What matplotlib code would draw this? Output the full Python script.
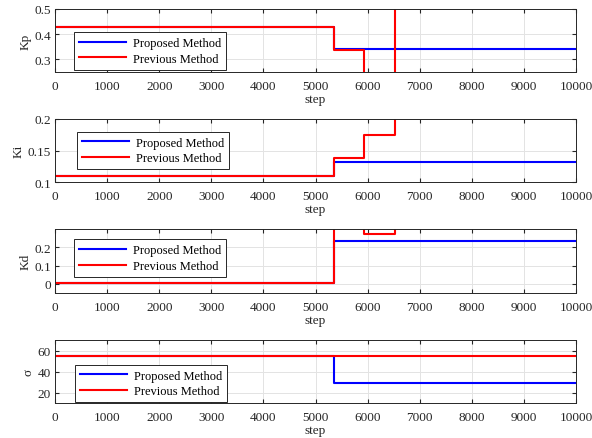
import matplotlib.pyplot as plt
from matplotlib.ticker import FuncFormatter

# step where each parameter value starts (values held until the next step)
steps = [0, 5350, 5930, 6530, 10000]

kp_proposed = [0.43, 0.343, 0.343, 0.343, 0.343]
kp_previous = [0.43, 0.336, 0.20, 0.60, 0.60]

ki_proposed = [0.109, 0.131, 0.131, 0.131, 0.131]
ki_previous = [0.109, 0.138, 0.175, 0.25, 0.25]

kd_proposed = [0.006, 0.235, 0.235, 0.235, 0.235]
kd_previous = [0.006, 0.35, 0.275, 0.35, 0.35]

sigma_proposed = [54.5, 29, 29, 29, 29]
sigma_previous = [54.5, 54.5, 54.5, 54.5, 54.5]

ylabels = ["Kp", "Ki", "Kd", "σ"]
ylims = [(0.25, 0.5), (0.1, 0.2), (-0.05, 0.3), (10, 70)]
yticks = [[0.3, 0.4, 0.5], [0.1, 0.15, 0.2], [0, 0.1, 0.2], [20, 40, 60]]
xticks = list(range(0, 10001, 1000))

plt.rcParams["font.family"] = ["Liberation Serif", "DejaVu Serif"]
plt.rcParams["font.size"] = 9.5
txt = "#262626"

fig = plt.figure(figsize=(5.92, 4.39), dpi=100)
W, H = 592, 439
left, right = 55, 576
panels = [(10, 73), (120, 183), (230, 294), (341, 404)]
legend_pos = [(0.036, 0.635), (0.042, 0.80), (0.036, 0.84), (0.038, 0.61)]

series = [
    (kp_proposed, kp_previous),
    (ki_proposed, ki_previous),
    (kd_proposed, kd_previous),
    (sigma_proposed, sigma_previous),
]

for i, ((top, bot), (prop, prev)) in enumerate(zip(panels, series)):
    ax = fig.add_axes([left / W, 1 - bot / H, (right - left) / W, (bot - top) / H])
    ax.plot(steps, prop, color="blue", lw=1.5, drawstyle="steps-post",
            label="Proposed Method")
    ax.plot(steps, prev, color="red", lw=1.5, drawstyle="steps-post",
            label="Previous Method")
    ax.set_xlim(0, 10000)
    ax.set_ylim(*ylims[i])
    ax.set_xticks(xticks)
    ax.set_yticks(yticks[i])
    ax.yaxis.set_major_formatter(FuncFormatter(lambda v, p: f"{v:g}"))
    ax.grid(True, color="#e3e3e3", lw=0.7)
    ax.set_axisbelow(True)
    ax.tick_params(direction="in", top=True, right=True, length=3,
                   colors=txt, labelsize=9.5)
    ax.tick_params(axis="x", pad=6)
    ax.tick_params(axis="y", pad=3)
    for s in ax.spines.values():
        s.set_color(txt)
        s.set_linewidth(0.7)
    ax.set_xlabel("step", color=txt, labelpad=0.5)
    ax.set_ylabel(ylabels[i], color=txt, labelpad=2)
    leg = ax.legend(loc="upper left", bbox_to_anchor=legend_pos[i],
                    fancybox=False, framealpha=1, edgecolor=txt, fontsize=9,
                    handlelength=3.8, borderpad=0.4, labelspacing=0.3,
                    handletextpad=0.5, borderaxespad=0)
    leg.get_frame().set_linewidth(0.7)

fig.savefig("out.png", dpi=100)
